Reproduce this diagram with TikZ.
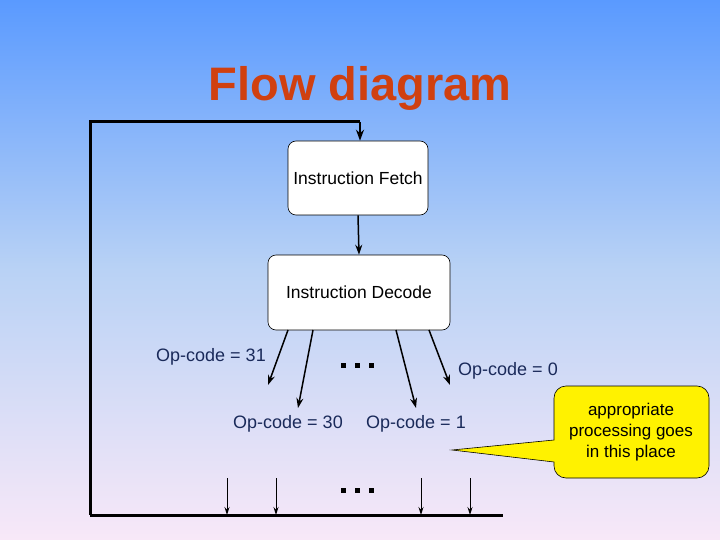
\documentclass[tikz,border=0pt]{standalone}
\usepackage{fontspec}
\setmainfont{Liberation Sans}
\usetikzlibrary{arrows.meta}
\begin{document}
\begin{tikzpicture}[x=1pt,y=-1pt,
  box/.style={draw=black,fill=white,rounded corners=8pt,line width=0.6pt},
  lbl/.style={text=lblc,font=\fontsize{18}{20}\selectfont},
  arr/.style={-{Stealth[length=10pt,width=7pt]},line width=1.5pt},
  thin/.style={-{Stealth[length=8pt,width=5pt]},line width=0.9pt},
  thick/.style={line width=3pt}]
\definecolor{lblc}{HTML}{1A2A5A}
\definecolor{ttl}{HTML}{D04010}
\shade[top color={rgb,255:red,90;green,154;blue,255},bottom color={rgb,255:red,248;green,232;blue,248},middle color={rgb,255:red,185;green,210;blue,245}] (0,0) rectangle (720,540);
\useasboundingbox (0,0) rectangle (720,540);
\node[text=ttl,font=\bfseries\fontsize{47}{50}\selectfont] (title) at (360,88) {Flow diagram};
\node[box,minimum width=140pt,minimum height=74pt,font=\fontsize{17.5}{20}\selectfont] (fetch) at (358,178) {Instruction Fetch};
\node[box,minimum width=182pt,minimum height=75pt,font=\fontsize{17.5}{20}\selectfont] (decode) at (359,292.5) {Instruction Decode};
\draw[arr] (fetch.south) -- (decode.north);
\coordinate (bl) at (90,515);
\coordinate (tl) at (90,122);
\coordinate (tr) at (360,122);
\coordinate (br) at (503,515);
\draw[thick] (bl) -- (tl) -- (tr);
\draw[-{Stealth[length=11pt,width=8pt]},line width=2.5pt] (tr) -- (fetch.north -| tr);
\draw[thick] (bl) -- (br);
\coordinate (a1) at (268,385); \coordinate (a2) at (298,408);
\coordinate (a3) at (416,408); \coordinate (a4) at (450,385);
\draw[arr] (288,330) -- (a1);
\draw[arr] (313,330) -- (a2);
\draw[arr] (396,330) -- (a3);
\draw[arr] (429,330) -- (a4);
\node[lbl] (l31) at (211,357) {Op-code = 31};
\node[lbl] (l0) at (508,371) {Op-code = 0};
\node[lbl] (l30) at (288,424) {Op-code = 30};
\node[lbl] (l1) at (416,424) {Op-code = 1};
\foreach \y/\n in {365/d1,490/d2}{
  \foreach \x in {343,357,371}{\fill[black] (\x-2.5,\y-2.5) rectangle (\x+2.5,\y+2.5);}
}
\foreach \x/\n in {227/b1,276/b2,421/b3,470/b4}{
  \coordinate (\n) at (\x,478);
  \draw[thin] (\n) -- (\n |- bl);
}
\draw[fill=yellow,line width=0.6pt] (554,440) -- (554,398) arc[start angle=180,end angle=90,radius=12pt] -- (697,386) arc[start angle=90,end angle=0,radius=12pt] -- (709,466) arc[start angle=0,end angle=-90,radius=12pt] -- (566,478) arc[start angle=-90,end angle=-180,radius=12pt] -- (554,462) -- (452,450) -- cycle;
\node[align=center,font=\fontsize{17}{21}\selectfont] (callout) at (631,432) {appropriate\\processing goes\\in this place};
\end{tikzpicture}
\end{document}
